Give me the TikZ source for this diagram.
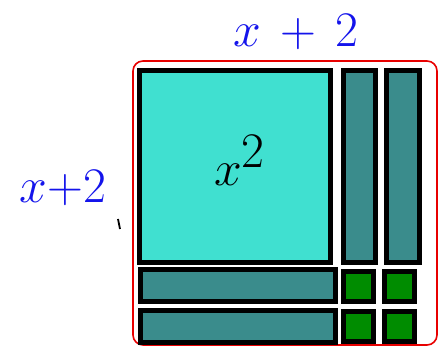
\documentclass[tikz,border=0pt]{standalone}
\usepackage{tikz}
\usetikzlibrary{positioning}
\definecolor{turq}{RGB}{64,224,208}
\definecolor{tealbar}{RGB}{58,140,140}
\definecolor{onegreen}{RGB}{0,140,0}
\definecolor{pen}{RGB}{20,20,235}
\definecolor{redpen}{RGB}{232,0,0}

\begin{document}
\begin{tikzpicture}[x=0.5pt, y=-0.5pt,
  tile/.style={draw, line width=2.5pt, inner sep=0pt},
  bar/.style={tile, fill=tealbar},
  one/.style={tile, fill=onegreen, minimum width=15pt, minimum height=15pt},
  lab/.style={text=pen, inner sep=0pt}]
  \useasboundingbox (0,0) rectangle (446,347);
  % the red outline round all tiles
  \node[draw=redpen, line width=0.8pt, rounded corners=5pt,
    minimum width=152pt, minimum height=142pt] (frame) at (285,203) {};
  % x^2 tile
  \node[tile, fill=turq, minimum width=95.5pt, minimum height=96pt] (xx) at (235,166.5) {};
  \node[inner sep=0pt, font=\fontsize{40}{44}\selectfont] (xxlab) at (240,160) {$x^2$};
  % x tiles
  \node[bar, minimum width=16pt, minimum height=96pt] (xa) at (359.5,166.5) {};
  \node[bar, minimum width=16.5pt, minimum height=96pt] (xb) at (403,166.5) {};
  \node[bar, minimum width=97.5pt, minimum height=16pt] (xc) at (238,285.5) {};
  \node[bar, minimum width=97.5pt, minimum height=16pt] (xd) at (238,326.5) {};
  % unit tiles
  \node[one] (u1) at (359,286.5) {};
  \node[one] (u2) at (399.5,286.5) {};
  \node[one] (u3) at (359,327) {};
  \node[one] (u4) at (399.5,327) {};
  % side labels
  \node[lab, font=\fontsize{27}{32}\selectfont] (top) at (296,32) {$x\,+\,2$};
  \node[lab, font=\fontsize{28}{32}\selectfont] (side) at (63,188) {$x{+}2$};
  \draw[line width=0.9pt] (118,219) -- (120,229);
\end{tikzpicture}
\end{document}
